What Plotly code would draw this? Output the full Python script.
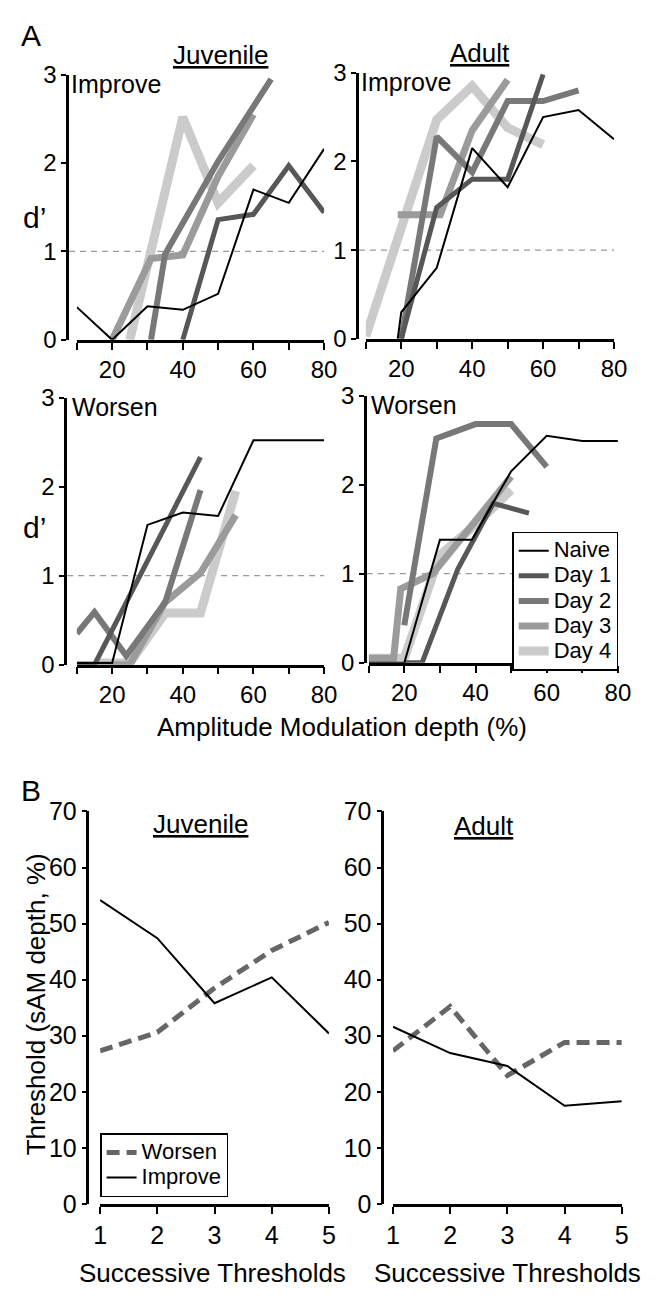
import plotly.graph_objects as go

W, H = 660, 1303
FONT = "Liberation Sans, Arial, sans-serif"

# ---------------- Data ----------------
SERIES = ["Naive", "Day 1", "Day 2", "Day 3", "Day 4"]

# Panel A - Juvenile, Improve
juv_imp_naive_x = [10, 20, 30, 40, 50, 60, 70, 80]
juv_imp_naive_y = [0.37, 0.0, 0.38, 0.34, 0.52, 1.70, 1.55, 2.16]
juv_imp_day1_x = [40, 50, 60, 70, 80]
juv_imp_day1_y = [0.0, 1.36, 1.42, 1.97, 1.44]
juv_imp_day2_x = [31, 35, 50, 65]
juv_imp_day2_y = [0.0, 0.97, 2.02, 2.95]
juv_imp_day3_x = [20, 31, 40, 50, 60]
juv_imp_day3_y = [0.0, 0.92, 0.96, 1.85, 2.55]
juv_imp_day4_x = [25, 40, 50, 60]
juv_imp_day4_y = [0.0, 2.52, 1.55, 1.97]

# Panel A - Adult, Improve
adu_imp_naive_x = [19, 20, 30, 40, 50, 60, 70, 80]
adu_imp_naive_y = [0.0, 0.3, 0.8, 2.15, 1.71, 2.5, 2.58, 2.25]
adu_imp_day1_x = [20, 30, 40, 50, 60]
adu_imp_day1_y = [0.0, 1.48, 1.8, 1.8, 2.98]
adu_imp_day2_x = [20, 30, 40, 50, 60, 70]
adu_imp_day2_y = [0.0, 2.28, 1.88, 2.68, 2.68, 2.8]
adu_imp_day3_x = [19, 31, 40, 50]
adu_imp_day3_y = [1.4, 1.4, 2.35, 2.92]
adu_imp_day4_x = [10, 30, 40, 50, 60]
adu_imp_day4_y = [0.03, 2.47, 2.85, 2.38, 2.19]

# Panel A - Juvenile, Worsen
juv_wor_naive_x = [10, 20, 30, 40, 50, 60, 80]
juv_wor_naive_y = [0.02, 0.02, 1.57, 1.71, 1.67, 2.52, 2.52]
juv_wor_day1_x = [10, 15, 45]
juv_wor_day1_y = [0.0, 0.0, 2.33]
juv_wor_day2_x = [10, 15, 24, 35, 45]
juv_wor_day2_y = [0.35, 0.59, 0.1, 0.7, 1.96]
juv_wor_day3_x = [10, 25, 35, 45, 55]
juv_wor_day3_y = [0.0, 0.0, 0.7, 1.03, 1.68]
juv_wor_day4_x = [15, 25, 35, 45, 55]
juv_wor_day4_y = [0.02, 0.02, 0.58, 0.58, 1.95]

# Panel A - Adult, Worsen
adu_wor_naive_x = [10, 20, 30, 39, 50, 60, 70, 80]
adu_wor_naive_y = [0.0, 0.0, 1.38, 1.38, 2.15, 2.55, 2.49, 2.49]
adu_wor_day1_x = [20, 25, 35, 45, 55]
adu_wor_day1_y = [0.0, 0.0, 1.05, 1.79, 1.68]
adu_wor_day2_x = [20, 29, 40, 50, 60]
adu_wor_day2_y = [0.42, 2.52, 2.68, 2.68, 2.2]
adu_wor_day3_x = [10, 17, 19, 28, 50]
adu_wor_day3_y = [0.05, 0.05, 0.83, 1.0, 2.09]
adu_wor_day4_x = [10, 20, 30, 40, 50]
adu_wor_day4_y = [0.05, 0.05, 1.21, 1.55, 1.94]

CRITERION_DPRIME = 1.0
A_X_TICKS = [10, 20, 30, 40, 50, 60, 70, 80]
A_X_TICKTEXT = ["", "20", "", "40", "", "60", "", "80"]
A_Y_TICKS = [0, 1, 2, 3]

# Panel B - thresholds (sAM depth, %) over successive thresholds
succ_thresholds = [1, 2, 3, 4, 5]
juv_worsen_thr = [27.3, 30.6, 38.5, 45.2, 50.2]
juv_improve_thr = [54.2, 47.4, 35.8, 40.4, 30.4]
adu_worsen_thr = [27.3, 35.2, 22.9, 28.8, 28.8]
adu_improve_thr = [31.6, 26.9, 24.6, 17.5, 18.3]
B_Y_TICKS = [0, 10, 20, 30, 40, 50, 60, 70]

# ---------------- Styles ----------------
COLORS = {"Naive": "#000000", "Day 1": "#575757", "Day 2": "#787878",
          "Day 3": "#9b9b9b", "Day 4": "#cbcbcb"}
WIDTHS = {"Naive": 2, "Day 1": 5, "Day 2": 6, "Day 3": 7, "Day 4": 9}


def fx(p):
    return p / W


def fy(p):
    return 1 - p / H


def legend_label(name, size=22):
    return f"<span style='font-size:{size}px'>{name}</span>"


panelA = {
    "juv_imp": dict(data=[(juv_imp_naive_x, juv_imp_naive_y), (juv_imp_day1_x, juv_imp_day1_y),
                          (juv_imp_day2_x, juv_imp_day2_y), (juv_imp_day3_x, juv_imp_day3_y),
                          (juv_imp_day4_x, juv_imp_day4_y)],
                    box=(72, 327, 62, 333), yline=62, n=1),
    "adu_imp": dict(data=[(adu_imp_naive_x, adu_imp_naive_y), (adu_imp_day1_x, adu_imp_day1_y),
                          (adu_imp_day2_x, adu_imp_day2_y), (adu_imp_day3_x, adu_imp_day3_y),
                          (adu_imp_day4_x, adu_imp_day4_y)],
                    box=(370, 626, 60, 332), yline=361, n=2),
    "juv_wor": dict(data=[(juv_wor_naive_x, juv_wor_naive_y), (juv_wor_day1_x, juv_wor_day1_y),
                          (juv_wor_day2_x, juv_wor_day2_y), (juv_wor_day3_x, juv_wor_day3_y),
                          (juv_wor_day4_x, juv_wor_day4_y)],
                    box=(72, 327, 392, 665), yline=60, n=3),
    "adu_wor": dict(data=[(adu_wor_naive_x, adu_wor_naive_y), (adu_wor_day1_x, adu_wor_day1_y),
                          (adu_wor_day2_x, adu_wor_day2_y), (adu_wor_day3_x, adu_wor_day3_y),
                          (adu_wor_day4_x, adu_wor_day4_y)],
                    box=(373, 630, 390, 663), yline=369, n=4),
}

fig = go.Figure()
layout = dict(
    width=W, height=H, margin=dict(l=0, r=0, t=0, b=0),
    paper_bgcolor="white", plot_bgcolor="rgba(0,0,0,0)",
    font=dict(family=FONT, size=22, color="black"),
    showlegend=True,
)

axis_common = dict(showline=True, linecolor="black", linewidth=2.5, ticks="outside",
                   tickwidth=2, tickcolor="black", showgrid=False, zeroline=False)

shapes = []
for key, p in panelA.items():
    n = p["n"]
    xs = "" if n == 1 else str(n)
    x0, x1, y0, y1 = p["box"]
    layout["xaxis" + xs] = dict(axis_common, domain=[fx(x0), fx(x1)], anchor="y" + xs,
                                range=[10, 80], tickvals=A_X_TICKS, ticktext=A_X_TICKTEXT,
                                ticklen=7, tickfont=dict(family=FONT, size=24, color="black"))
    layout["yaxis" + xs] = dict(axis_common, domain=[fy(y1), fy(y0)], anchor="free",
                                position=fx(p["yline"]), range=[0, 3], tickvals=A_Y_TICKS,
                                ticklen=5, tickfont=dict(family=FONT, size=24, color="black"))
    shapes.append(dict(type="line", xref="paper", yref="y" + xs, x0=fx(p["yline"] + 2),
                       x1=fx(x1), y0=CRITERION_DPRIME, y1=CRITERION_DPRIME, layer="below",
                       line=dict(color="#9a9a9a", width=1.2, dash="6px,5px")))
    # draw lightest first so thin lines end up on top
    for i in reversed(range(len(SERIES))):
        name = SERIES[i]
        xv, yv = p["data"][i]
        fig.add_trace(go.Scatter(
            x=xv, y=yv, mode="lines", name=legend_label(name, 22),
            line=dict(color=COLORS[name], width=WIDTHS[name]),
            xaxis="x" + xs, yaxis="y" + xs,
            showlegend=(key == "adu_wor"), legend="legend", legendrank=i + 1,
        ))

# Panel B
panelB = [
    dict(worsen=juv_worsen_thr, improve=juv_improve_thr, box=(96, 332, 815, 1216), yline=83, n=5),
    dict(worsen=adu_worsen_thr, improve=adu_improve_thr, box=(398, 634, 815, 1216), yline=387, n=6),
]
for p in panelB:
    xs = str(p["n"])
    x0, x1, y0, y1 = p["box"]
    layout["xaxis" + xs] = dict(axis_common, domain=[fx(x0), fx(x1)], anchor="y" + xs,
                                range=[1, 5], tickvals=succ_thresholds, ticklen=7,
                                tickfont=dict(family=FONT, size=25, color="black"))
    layout["yaxis" + xs] = dict(axis_common, domain=[fy(y1), fy(y0)], anchor="free",
                                position=fx(p["yline"]), range=[0, 70], tickvals=B_Y_TICKS,
                                ticklen=5, tickfont=dict(family=FONT, size=25, color="black"))
    first = p["n"] == 5
    fig.add_trace(go.Scatter(x=succ_thresholds, y=p["worsen"], mode="lines",
                             name=legend_label("Worsen", 22),
                             line=dict(color="#666666", width=5, dash="13px,7px"),
                             xaxis="x" + xs, yaxis="y" + xs, legend="legend2",
                             showlegend=first))
    fig.add_trace(go.Scatter(x=succ_thresholds, y=p["improve"], mode="lines",
                             name=legend_label("Improve", 22),
                             line=dict(color="black", width=2),
                             xaxis="x" + xs, yaxis="y" + xs, legend="legend2",
                             showlegend=first))

layout["legend"] = dict(x=fx(521), y=fy(529), xanchor="left", yanchor="top",
                        bgcolor="white", bordercolor="black", borderwidth=1.5,
                        font=dict(family=FONT, size=17, color="black"),
                        tracegroupgap=0)
layout["legend2"] = dict(x=fx(96), y=fy(1144), xanchor="left", yanchor="top",
                         bgcolor="white", bordercolor="black", borderwidth=1.5,
                         font=dict(family=FONT, size=17, color="black"))


def ann(text, x, y, size=22, xanchor="center", yanchor="middle", angle=0):
    return dict(text=text, x=fx(x), y=fy(y), xref="paper", yref="paper", showarrow=False,
                xanchor=xanchor, yanchor=yanchor, textangle=angle,
                font=dict(family=FONT, size=size, color="black"))


annotations = [
    ann("A", 12, 22, size=30, xanchor="left"),
    ann("B", 12, 794, size=30, xanchor="left"),
    ann("<u>Juvenile</u>", 220, 42, size=26),
    ann("<u>Adult</u>", 488, 40, size=26),
    ann("Improve", 64, 72, size=25, xanchor="left"),
    ann("Improve", 363, 70, size=25, xanchor="left"),
    ann("Worsen", 65, 402, size=25, xanchor="left"),
    ann("Worsen", 373, 400, size=25, xanchor="left"),
    ann("d’", 28, 208, size=30),
    ann("d’", 28, 525, size=30),
    ann("Amplitude Modulation depth (%)", 345, 729, size=26),
    ann("<u>Juvenile</u>", 200, 828, size=26),
    ann("<u>Adult</u>", 492, 830, size=26),
    ann("Threshold (sAM depth, %)", 30, 1012, size=26, angle=-90),
    ann("Successive Thresholds", 212, 1287, size=26),
    ann("Successive Thresholds", 516, 1287, size=26),
]
layout["annotations"] = annotations
layout["shapes"] = shapes

fig.update_layout(**layout)
fig.write_html("out.html")
